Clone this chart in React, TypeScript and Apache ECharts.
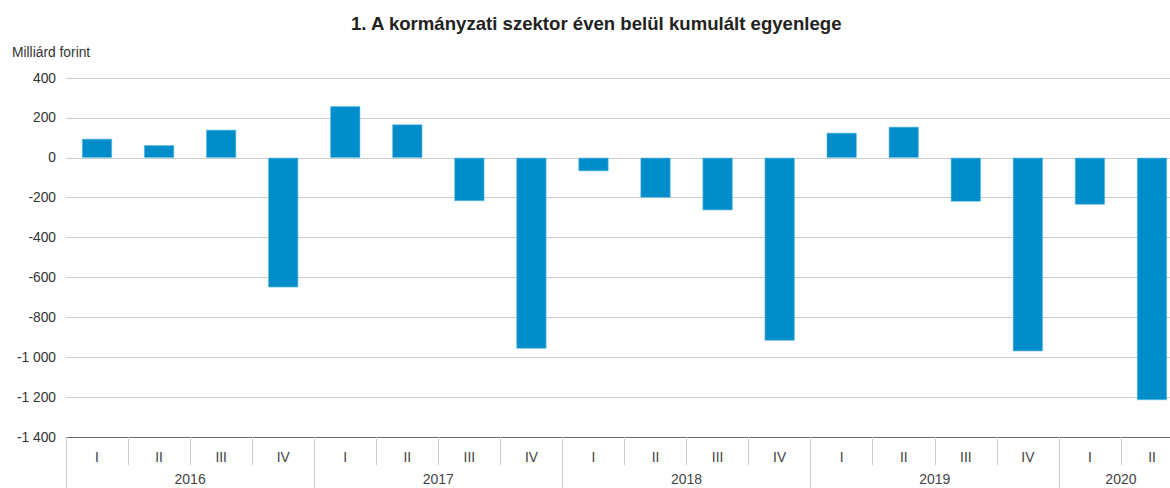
import React, { useEffect, useRef } from "react";
import * as echarts from "echarts";

const quarters = ["I", "II", "III", "IV", "I", "II", "III", "IV", "I", "II", "III", "IV", "I", "II", "III", "IV", "I", "II"];
const values = [95, 63, 140, -650, 258, 167, -217, -957, -67, -200, -263, -917, 125, 155, -220, -970, -235, -1215];
const years = ["2016", "2017", "2018", "2019", "2020"];
const yearCenters = [2, 6, 10, 14, 17];
const yearBounds = [0, 4, 8, 12, 16, 18];

export default function App() {
  const ref = useRef<HTMLDivElement>(null);
  useEffect(() => {
    const chart = echarts.init(ref.current!, null, { renderer: "svg" });
    const font = "Liberation Sans, Arial, sans-serif";
    chart.setOption({
      animation: false,
      title: {
        text: "1. A kormányzati szektor éven belül kumulált egyenlege",
        left: 346,
        top: 9,
        textStyle: { fontFamily: font, fontSize: 18.6, fontWeight: "bold", color: "#222" },
      },
      graphic: [
        {
          type: "text",
          left: 12,
          top: 45,
          style: { text: "Milliárd forint", font: "13.8px " + font, fill: "#333" },
        },
      ],
      grid: { left: 66, right: 0, top: 78, bottom: 51, containLabel: false },
      xAxis: [
        {
          type: "category",
          data: quarters,
          position: "bottom",
          axisLine: { show: true, onZero: false, lineStyle: { color: "#666", width: 1 } },
          axisTick: { show: true, length: 28, lineStyle: { color: "#ccc" } },
          axisLabel: { fontFamily: font, fontSize: 13.8, color: "#444", margin: 13 },
          splitLine: { show: false },
        },
        {
          type: "value",
          min: 0,
          max: 18,
          position: "bottom",
          axisLine: { show: false, onZero: false },
          axisTick: { show: true, length: 51, customValues: yearBounds, lineStyle: { color: "#ccc" } },
          axisLabel: {
            customValues: yearCenters,
            fontFamily: font,
            fontSize: 14,
            color: "#444",
            margin: 35,
            formatter: (v: number) => years[yearCenters.indexOf(v)] ?? "",
          },
          splitLine: { show: false },
        },
      ],
      yAxis: {
        type: "value",
        min: -1400,
        max: 400,
        interval: 200,
        axisLine: { show: false },
        axisTick: { show: false },
        axisLabel: {
          fontFamily: font,
          fontSize: 13.8,
          color: "#333",
          margin: 10,
          formatter: (v: number) => {
            const s = Math.abs(v).toString().replace(/\B(?=(\d{3})+(?!\d))/g, " ");
            return (v < 0 ? "-" : "") + s;
          },
        },
        splitLine: { show: true, lineStyle: { color: "#ccc", width: 1 } },
      },
      series: [
        {
          type: "bar",
          xAxisIndex: 0,
          data: values,
          barWidth: 30,
          itemStyle: { color: "#008dc9", borderColor: "#5cbce6", borderWidth: 0.6 },
        },
      ],
    });
    return () => chart.dispose();
  }, []);
  return (
    <div style={{ width: 1170, height: 488, position: "absolute", left: 0, top: 0, overflow: "hidden" }}>
      <div ref={ref} style={{ width: 1183, height: 488 }} />
    </div>
  );
}
